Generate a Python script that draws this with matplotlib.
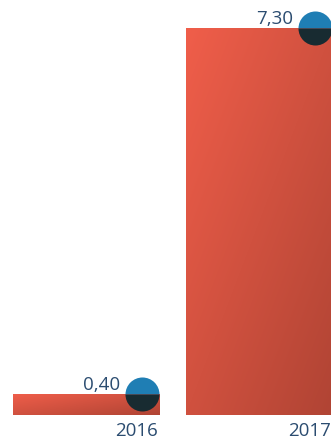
import matplotlib
matplotlib.use('Agg')
import matplotlib.pyplot as plt
import numpy as np
from matplotlib.colors import LinearSegmentedColormap

# Datos
years = ['2016', '2017']
values = [0.40, 7.30]
value_labels = ['0,40', '7,30']

# Colores
bar_light = '#F05E4A'
bar_dark = '#B04434'
dot_top = '#1F7EB4'
dot_bottom = '#182B31'
text_color = '#2B4C70'

plt.rcParams['font.family'] = ['Open Sans', 'DejaVu Sans']

W, H = 331, 443
fig = plt.figure(figsize=(W / 100, H / 100), dpi=100)
fig.patch.set_facecolor('white')

# ejes: y=0 en px 415, y=7.3 en px 28; 173 px por categoria
unit_px = 173
ax = fig.add_axes([0, (H - 415) / H, (2 * unit_px) / W, (415 - 28) / H])
ax.set_xlim(-0.5, 1.5)
ax.set_ylim(0, max(values))

bar_w = 147 / unit_px
x = np.arange(len(years))
bars = ax.bar(x, values, width=bar_w, color='none', edgecolor='none')

# Degradado diagonal por barra
cmap = LinearSegmentedColormap.from_list('grad', [bar_light, bar_dark])
uu, vv = np.meshgrid(np.linspace(0, 1, 200), np.linspace(0, 1, 200))
grad = (uu + vv) / 2
for b in bars:
    x0, y0 = b.get_x(), b.get_y()
    x1, y1 = x0 + b.get_width(), y0 + b.get_height()
    im = ax.imshow(grad, cmap=cmap, extent=(x0, x1, y0, y1), origin='upper',
                   aspect='auto', interpolation='bilinear', zorder=1)
    im.set_clip_path(b)

# Circulos y etiquetas
dot_off = 18 / unit_px
for i, v in enumerate(values):
    cx = x[i] + bar_w / 2 - dot_off
    ax.plot(cx, v, marker='o', markersize=24.5, fillstyle='top',
            markerfacecolor=dot_top, markerfacecoloralt=dot_bottom,
            markeredgewidth=0, clip_on=False, zorder=3)
    ax.annotate(value_labels[i], (cx, v), textcoords='offset points',
                xytext=(-15.5, 2.6), ha='right', va='baseline',
                color=text_color, fontsize=13.5, clip_on=False, zorder=4)

# Etiquetas de eje alineadas a la derecha
ax.set_xticks(x + bar_w / 2 - 2 / unit_px)
ax.set_xticklabels(years, ha='right', color=text_color, fontsize=13.5)
ax.tick_params(axis='x', length=0, pad=5)
ax.set_yticks([])
for s in ax.spines.values():
    s.set_visible(False)
ax.set_facecolor('none')

fig.savefig('out.png', dpi=100, facecolor='white')
